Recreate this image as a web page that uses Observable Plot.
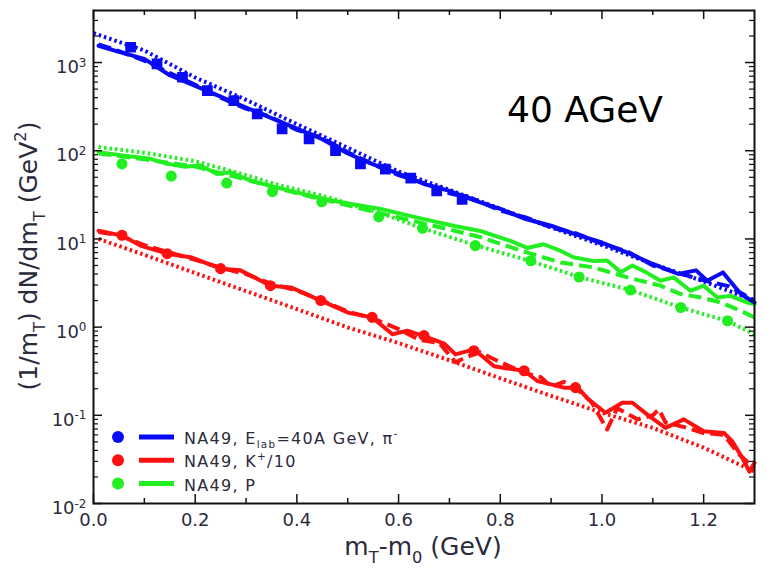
<!DOCTYPE html>
<html><head><meta charset="utf-8">
<script src="https://cdn.jsdelivr.net/npm/d3@7"></script>
<script src="https://cdn.jsdelivr.net/npm/@observablehq/plot@0.6"></script>
<style>body{margin:0;background:#fff}#chart{width:767px;height:568px}</style>
</head><body><div id="chart"></div>
<script>
// ---- data ----
const blueSolidX = [0.01,0.05,0.1,0.15,0.2,0.25,0.3,0.35,0.4,0.45,0.5,0.55,0.6,0.65,0.7,0.75,0.8,0.85,0.9,0.95,1.0,1.05,1.1,1.15,1.185,1.207,1.238,1.273,1.3];
const blueSolidY = [1550,1320,1100,718,543,411,309,234,178,135,93,70,55,42,35,27.2,21.9,16.8,14.1,11.2,9.1,7.0,5.2,4.0,4.4,3.35,4.17,2.37,1.9];
const blueDashX = [0.01,0.05,0.1,0.15,0.2,0.25,0.3,0.35,0.4,0.45,0.5,0.55,0.6,0.65,0.7,0.75,0.8,0.85,0.9,0.95,1.0,1.05,1.1,1.15,1.2,1.25,1.3];
const blueDashY = [1600,1350,1050,760,560,400,300,240,172,140,96,70,53,43,33,28,21,17.5,13.5,11.5,8.8,7.2,5.0,4.1,3.4,2.9,2.0];
const blueDotX = [0,0.1,0.2,0.3,0.4,0.5,0.6,0.7,0.8,0.9,1.0,1.1,1.2,1.3];
const blueDotY = [2150,1370,676,378,200,108,58,36,22,13.5,8.5,5.2,3.3,2.0];
const blueDataX = [0.073,0.125,0.175,0.224,0.276,0.322,0.371,0.424,0.476,0.525,0.574,0.624,0.675,0.725];
const blueDataY = [1490,967,681,481,370,262,177,136,100,71,62,49,35,28];

const greenSolidX = [0.01,0.06,0.112,0.145,0.178,0.21,0.243,0.27,0.309,0.348,0.388,0.453,0.506,0.565,0.61,0.663,0.71,0.761,0.82,0.853,0.885,0.919,0.944,0.984,1.01,1.037,1.06,1.086,1.115,1.141,1.174,1.2,1.227,1.253,1.286,1.3];
const greenSolidY = [96,88,81,71,66,68,54.6,57,45.7,40,35,28.4,24.9,21.9,19,16.1,14,12.3,9.5,7.9,8.7,7.3,6.2,5.6,5.7,4.2,5.0,4.2,3.35,3.66,2.58,2.95,2.17,2.26,1.9,1.82];
const greenDashX = [0.01,0.1,0.2,0.3,0.4,0.5,0.6,0.7,0.76,0.86,0.919,0.984,1.05,1.115,1.155,1.195,1.234,1.273,1.3];
const greenDashY = [93,80,66,47,33,24,17.5,12.8,10.5,6.8,5.4,4.75,3.66,2.95,2.37,2.17,1.9,1.53,1.29];
const greenDotX = [0.01,0.1,0.2,0.3,0.356,0.449,0.561,0.647,0.751,0.86,0.955,1.056,1.155,1.247,1.3];
const greenDotY = [110,95,76,53,42,31,20,13.2,8.5,5.6,3.7,2.63,1.67,1.17,0.83];
const greenDataX = [0.056,0.153,0.262,0.352,0.449,0.561,0.647,0.751,0.860,0.955,1.056,1.155,1.247];
const greenDataY = [71,51.5,43,34.4,26.4,17.8,13.2,8.4,5.66,3.7,2.63,1.67,1.18];

const redSolidX = [0.01,0.056,0.092,0.145,0.191,0.25,0.289,0.348,0.388,0.447,0.502,0.548,0.588,0.617,0.65,0.69,0.712,0.748,0.788,0.814,0.847,0.873,0.9,0.925,0.952,0.974,1.007,1.04,1.06,1.093,1.125,1.161,1.2,1.24,1.256,1.276,1.29,1.3];
const redSolidY = [12.4,10.9,8.4,6.8,6.2,4.6,4.4,2.95,2.82,2.0,1.45,1.29,0.83,0.91,0.79,0.65,0.49,0.56,0.36,0.34,0.32,0.245,0.224,0.206,0.206,0.151,0.107,0.139,0.139,0.098,0.072,0.09,0.066,0.063,0.051,0.033,0.023,0.029];
const redDashX = [0.01,0.05,0.1,0.15,0.2,0.25,0.3,0.35,0.4,0.45,0.5,0.55,0.6,0.64,0.68,0.712,0.735,0.76,0.8,0.85,0.88,0.9,0.925,0.95,0.98,1.01,1.03,1.07,1.1,1.112,1.125,1.16,1.2,1.24,1.27,1.3];
const redDashY = [12.0,11.0,8.5,7.0,5.8,4.7,4.0,3.1,2.6,2.0,1.5,1.25,0.95,0.72,0.66,0.40,0.46,0.52,0.40,0.30,0.27,0.21,0.24,0.20,0.14,0.069,0.12,0.09,0.10,0.117,0.083,0.074,0.063,0.06,0.036,0.025];
const redDotX = [0.01,0.1,0.2,0.3,0.4,0.5,0.6,0.7,0.8,0.9,1.0,1.1,1.2,1.3];
const redDotY = [10,6.6,4.1,2.56,1.6,0.99,0.66,0.42,0.263,0.166,0.107,0.072,0.043,0.023];
const redDataX = [0.056,0.145,0.25,0.348,0.447,0.548,0.65,0.748,0.847,0.948];
const redDataY = [11,6.8,4.6,2.95,2.0,1.29,0.80,0.54,0.32,0.206];

const xMajor = [0,0.2,0.4,0.6,0.8,1.0,1.2];
const xMinor = [0.1,0.3,0.5,0.7,0.9,1.1];
const yMajor = [0.01,0.1,1,10,100,1000];
const legendLabels = ["NA49, E|lab|=40A GeV, π^-", "NA49, K^+/10", "NA49, P"];
const annotation = "40 AGeV";

// ---- layout ----
const W = 767, H = 568, mL = 93, mR = 13, mT = 10, mB = 65;
const FW = W - mL - mR, FH = H - mT - mB;
const BLUE = "#0a0af5", RED = "#ff1010", GREEN = "#22ee22";
const pts = (xs, ys) => xs.map((x, i) => ({x, y: ys[i]}));
const yMinor = [];
for (const d of [0.01,0.1,1,10,100,1000]) for (let k = 2; k <= 9; k++) if (d*k < 3890) yMinor.push(d*k);

function series(col, sx, sy, dx, dy, ox, oy, dataX, dataY, symbol) {
  return [
    Plot.dot(pts(dataX, dataY), {x:"x", y:"y", fill: col, stroke: col, r: symbol === "square" ? 5.2 : 4.8, symbol}),
    Plot.line(pts(ox, oy), {x:"x", y:"y", stroke: col, strokeWidth: 4, strokeDasharray: "2.5,3", strokeLinecap: "butt", strokeLinejoin: "miter"}),
    Plot.line(pts(dx, dy), {x:"x", y:"y", stroke: col, strokeWidth: 4, strokeDasharray: "13,6", strokeLinecap: "butt"}),
    Plot.line(pts(sx, sy), {x:"x", y:"y", stroke: col, strokeWidth: 4})
  ];
}

const chart = Plot.plot({
  width: W, height: H, marginLeft: mL, marginRight: mR, marginTop: mT, marginBottom: mB,
  style: {fontFamily: "DejaVu Sans", fontSize: "18px", color: "#2b2b3b", background: "#fff"},
  x: {domain: [0, 1.3], label: null},
  y: {type: "log", domain: [0.01, 3890], label: null},
  marks: [
    ...series(RED, redSolidX, redSolidY, redDashX, redDashY, redDotX, redDotY, redDataX, redDataY, "circle"),
    ...series(GREEN, greenSolidX, greenSolidY, greenDashX, greenDashY, greenDotX, greenDotY, greenDataX, greenDataY, "circle"),
    ...series(BLUE, blueSolidX, blueSolidY, blueDashX, blueDashY, blueDotX, blueDotY, blueDataX, blueDataY, "square"),
    // inward tick marks
    Plot.ruleX(xMajor, {x: d => d, insetTop: FH - 9, stroke: "#111", strokeWidth: 1.5}),
    Plot.ruleX(xMajor, {x: d => d, insetBottom: FH - 9, stroke: "#111", strokeWidth: 1.5}),
    Plot.ruleX(xMinor, {x: d => d, insetTop: FH - 5, stroke: "#111", strokeWidth: 1.5}),
    Plot.ruleX(xMinor, {x: d => d, insetBottom: FH - 5, stroke: "#111", strokeWidth: 1.5}),
    Plot.ruleY(yMajor, {y: d => d, insetRight: FW - 9, stroke: "#111", strokeWidth: 1.5}),
    Plot.ruleY(yMajor, {y: d => d, insetLeft: FW - 9, stroke: "#111", strokeWidth: 1.5}),
    Plot.ruleY(yMinor, {y: d => d, insetRight: FW - 5, stroke: "#111", strokeWidth: 1.2}),
    Plot.ruleY(yMinor, {y: d => d, insetLeft: FW - 5, stroke: "#111", strokeWidth: 1.2}),
    Plot.axisX({ticks: xMajor, tickSize: 0, tickPadding: 10, tickFormat: d3.format(".1f")}),
    Plot.axisY({ticks: yMajor, tickSize: 0, tickPadding: 7, dy: 5, tickFormat: d => "10^" + Math.round(Math.log10(d))}),
    Plot.frame({stroke: "#111", strokeWidth: 2})
  ]
});
document.getElementById("chart").appendChild(chart);

const svg = d3.select(chart);
// superscripts on y tick labels
svg.selectAll('g[aria-label="y-axis tick label"] text').each(function() {
  const t = d3.select(this);
  const s = t.text();
  const [base, ex] = s.split("^");
  t.text(null);
  t.append("tspan").text(base);
  t.append("tspan").attr("dy", "-0.55em").attr("font-size", "12px").text(ex);
});

// rich text helper: parts [text, mode] mode: 0 normal, -1 sub, 1 super
function rich(sel, parts, size, subShift = 0.3) {
  let cur = 0;
  for (const [str, mode] of parts) {
    const shift = mode === -1 ? subShift : mode === 1 ? -0.45 : 0;
    const sp = sel.append("tspan").text(str);
    const dyv = (shift - cur) * size;
    if (dyv !== 0) sp.attr("dy", dyv);
    if (mode !== 0) sp.attr("font-size", size * 0.65);
    cur = shift;
  }
}

const g = svg.append("g").attr("font-family", "DejaVu Sans").attr("fill", "#2b2b3b").attr("text-anchor", "start");
// y axis title
const yt = g.append("text").attr("transform", "translate(37,256) rotate(-90)")
  .attr("text-anchor", "middle").attr("font-size", 25);
rich(yt, [["(1/m",0],["T",-1],[") dN/dm",0],["T",-1],[" (GeV",0],["2",1],[")",0]], 25);
// x axis title
const xt = g.append("text").attr("x", 423).attr("y", 555).attr("text-anchor", "middle").attr("font-size", 25);
rich(xt, [["m",0],["T",-1],["-m",0],["0",-1],[" (GeV)",0]], 25);

// annotation
g.append("text").attr("x", 507).attr("y", 122).attr("font-size", 36).attr("fill", "#000").text(annotation);

// legend
const lcols = [BLUE, RED, GREEN];
legendLabels.forEach((lab, i) => {
  const cy = 437 + i * 23.3;
  g.append("circle").attr("cx", 118).attr("cy", cy).attr("r", 6).attr("fill", lcols[i]);
  g.append("line").attr("x1", 139).attr("x2", 174).attr("y1", cy).attr("y2", cy)
    .attr("stroke", lcols[i]).attr("stroke-width", 5);
  const t = g.append("text").attr("x", 184).attr("y", cy + 7).attr("font-size", 16).attr("letter-spacing", "1.3px");
  const parts = [];
  const re = /\|([^|]+)\||\^(\S+)/g;
  let last = 0, m;
  while ((m = re.exec(lab))) {
    if (m.index > last) parts.push([lab.slice(last, m.index), 0]);
    if (m[1]) parts.push([m[1], -1]); else {
      const sup = m[2].split("/")[0];
      parts.push([sup, 1]);
      if (m[2].length > sup.length) parts.push([m[2].slice(sup.length), 0]);
    }
    last = re.lastIndex;
  }
  if (last < lab.length) parts.push([lab.slice(last), 0]);
  rich(t, parts, 16, 0.22);
});
</script>
</body></html>
